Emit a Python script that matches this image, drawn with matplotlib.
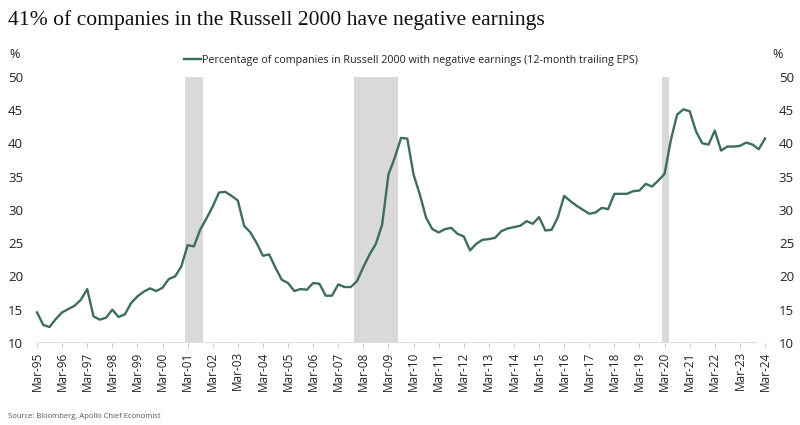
import matplotlib
matplotlib.use("Agg")
import matplotlib.pyplot as plt
import numpy as np

# Quarterly data, Mar-95 .. Mar-24
values = [
    14.6, 12.7, 12.4, 13.6,   # 1995
    14.6, 15.1, 15.6, 16.5,   # 1996
    18.1, 14.0, 13.5, 13.8,   # 1997
    15.0, 13.9, 14.3, 16.0,   # 1998
    17.0, 17.7, 18.2, 17.8,   # 1999
    18.3, 19.6, 20.0, 21.5,   # 2000
    24.7, 24.5, 27.0, 28.7,   # 2001
    30.5, 32.6, 32.7, 32.1,   # 2002
    31.4, 27.6, 26.6, 25.0,   # 2003
    23.1, 23.3, 21.3, 19.5,   # 2004
    19.0, 17.8, 18.1, 18.0,   # 2005
    19.0, 18.9, 17.1, 17.1,   # 2006
    18.8, 18.4, 18.4, 19.3,   # 2007
    21.4, 23.3, 24.9, 27.8,   # 2008
    35.3, 37.8, 40.8, 40.7,   # 2009
    35.3, 32.3, 28.8, 27.1,   # 2010
    26.6, 27.1, 27.3, 26.4,   # 2011
    26.0, 23.9, 24.9, 25.5,   # 2012
    25.6, 25.8, 26.8, 27.2,   # 2013
    27.4, 27.6, 28.3, 27.9,   # 2014
    28.9, 26.9, 27.0, 28.9,   # 2015
    32.1, 31.3, 30.6, 30.0,   # 2016
    29.4, 29.6, 30.3, 30.1,   # 2017
    32.4, 32.4, 32.4, 32.8,   # 2018
    32.9, 33.9, 33.5, 34.4,   # 2019
    35.4, 40.5, 44.3, 45.1,   # 2020
    44.8, 41.8, 40.0, 39.8,   # 2021
    41.9, 38.9, 39.5, 39.5,   # 2022
    39.6, 40.1, 39.8, 39.1,   # 2023
    40.7,                     # 2024
]
years = list(range(1995, 2025))
tick_labels = ["Mar-%02d" % (y % 100) for y in years]
recession_start = [2000.91, 2007.64, 2019.89]
recession_end = [2001.63, 2009.39, 2020.16]
y_ticks = [10, 15, 20, 25, 30, 35, 40, 45, 50]

title = "41% of companies in the Russell 2000 have negative earnings"
legend_label = "Percentage of companies in Russell 2000 with negative earnings (12-month trailing EPS)"
source = "Source: Bloomberg, Apollo Chief Economist"

x = 1995 + 0.25 * np.arange(len(values))

fig = plt.figure(figsize=(8, 4.25), dpi=100)
fig.patch.set_facecolor("white")
ax = fig.add_axes([0.04625, 0.193, 0.91, 0.6266])

sans = ["Open Sans", "DejaVu Sans"]

for s, e in zip(recession_start, recession_end):
    ax.axvspan(s, e, color="#d9d9d9", lw=0, zorder=1)

ax.axhline(10, xmin=0, xmax=(2023.6 - 1995) / 29, color="#dcdcdc", lw=2.0, zorder=1)

line, = ax.plot(x, values, color="#3c6e5b", lw=1.7, zorder=3, label=legend_label,
                clip_on=False, solid_joinstyle="round")

ax.set_xlim(1995, 2024)
ax.set_ylim(10, 50)
ax.set_xticks(years)
ax.set_xticklabels(tick_labels, rotation=90, fontsize=8.5, family=sans, color="#222222")
ax.set_yticks(y_ticks)
ax.set_yticklabels([str(v) for v in y_ticks], fontsize=9.5, family=sans, color="#222222")
ax.tick_params(axis="x", length=3, width=0.6, color="#bbbbbb", pad=3)
ax.tick_params(axis="y", length=0, pad=10)
for sp in ax.spines.values():
    sp.set_visible(False)

ax2 = ax.twinx()
ax2.set_ylim(10, 50)
ax2.set_yticks(y_ticks)
ax2.set_yticklabels([str(v) for v in y_ticks], fontsize=9.5, family=sans, color="#222222")
ax2.tick_params(axis="y", length=0, pad=10)
for sp in ax2.spines.values():
    sp.set_visible(False)

fig.text(15 / 800, 1 - 55 / 425, "%", fontsize=9, family=sans, color="#222222", ha="center", va="center")
fig.text(778 / 800, 1 - 55 / 425, "%", fontsize=9, family=sans, color="#222222", ha="center", va="center")

leg = ax.legend(handles=[line], loc="upper left", bbox_to_anchor=(184 / 800, 1 - 55 / 425),
                bbox_transform=fig.transFigure, frameon=False, handlelength=1.6,
                handletextpad=0.1, borderaxespad=0, borderpad=0,
                prop={"family": sans, "size": 7.75})
for t in leg.get_texts():
    t.set_color("#222222")

fig.text(8 / 800, 1 - 20 / 425, title, fontsize=15.6, family=["Liberation Serif", "DejaVu Serif"],
         color="#111111", ha="left", va="center")
fig.text(8 / 800, 1 - 417 / 425, source, fontsize=5.5, family=sans, color="#555555",
         ha="left", va="center")

fig.savefig("out.png", dpi=100, facecolor="white")
